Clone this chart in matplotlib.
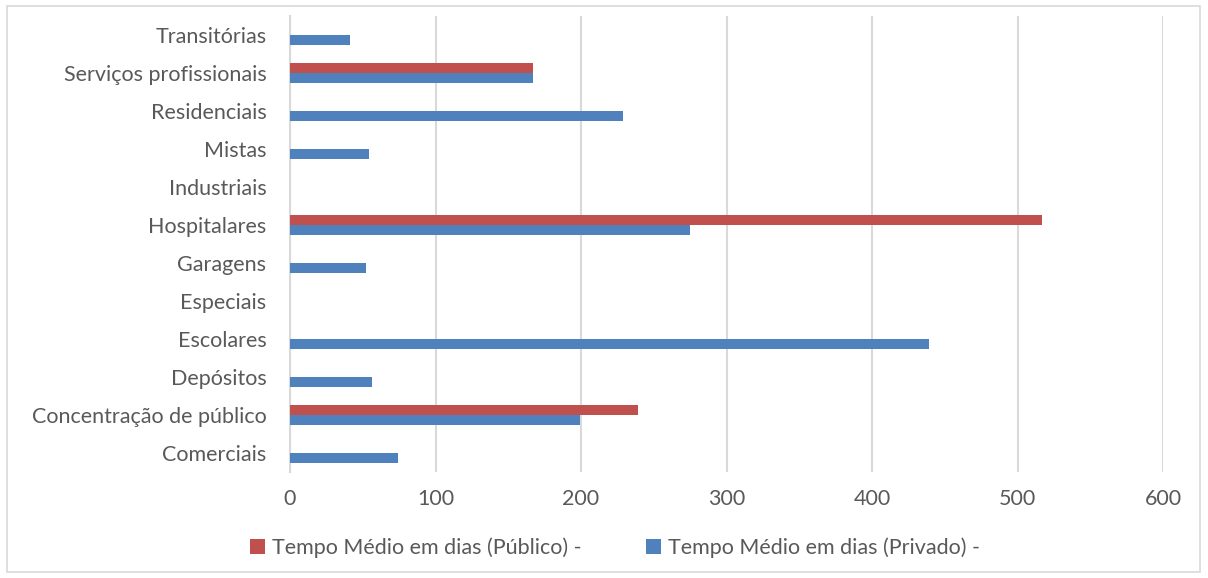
import numpy as np
import matplotlib
matplotlib.use("Agg")
import matplotlib.pyplot as plt
from matplotlib.patches import Rectangle

# categories bottom -> top (as drawn by barh)
categories = ["Comerciais", "Concentração de público", "Depósitos", "Escolares",
              "Especiais", "Garagens", "Hospitalares", "Industriais", "Mistas",
              "Residenciais", "Serviços profissionais", "Transitórias"]
publico = [0, 239, 0, 0, 0, 0, 517, 0, 0, 0, 167, 0]
privado = [74, 199, 56, 439, 0, 52, 275, 0, 54, 229, 167, 41]
x_ticks = [0, 100, 200, 300, 400, 500, 600]

label_pub = "Tempo Médio em dias (Público) -"
label_priv = "Tempo Médio em dias (Privado) -"

RED = "#C0504D"
BLUE = "#4F81BD"
GRID = "#D9D9D9"
TXT = "#595959"
FS = 15.5

plt.rcParams["font.family"] = ["Lato", "DejaVu Sans"]

fig = plt.figure(figsize=(12.08, 5.78), dpi=100)
ax = fig.add_axes([0.2401, 0.1834, 0.7227, 0.7889])

y = np.arange(len(categories))
h = 0.265
ax.barh(y + h / 2, publico, height=h, color=RED, label=label_pub, zorder=3)
ax.barh(y - h / 2, privado, height=h, color=BLUE, label=label_priv, zorder=3)

ax.set_xlim(0, 600)
ax.set_ylim(-0.5, len(categories) - 0.5)
ax.set_xticks(x_ticks)
ax.set_yticks(y)
ax.set_yticklabels(categories)
ax.tick_params(axis="both", length=0, labelsize=FS, colors=TXT)
ax.tick_params(axis="y", pad=17)
ax.tick_params(axis="x", pad=12)

ax.xaxis.grid(True, color=GRID, linewidth=1.5, zorder=0)
for s in ["top", "right", "bottom"]:
    ax.spines[s].set_visible(False)
ax.spines["left"].set_color(GRID)
ax.spines["left"].set_linewidth(1.5)

handles, labels = ax.get_legend_handles_labels()
fig.legend(handles, labels, loc="center", bbox_to_anchor=(0.509, 0.052), ncol=2,
           frameon=False, fontsize=FS, labelcolor=TXT, handlelength=0.7,
           handleheight=0.7, handletextpad=0.3, columnspacing=3.0)

fig.patches.append(Rectangle((0.006, 0.011), 0.987, 0.978, transform=fig.transFigure,
                             fill=False, edgecolor=GRID, linewidth=1.2))

fig.savefig("out.png", dpi=100)
